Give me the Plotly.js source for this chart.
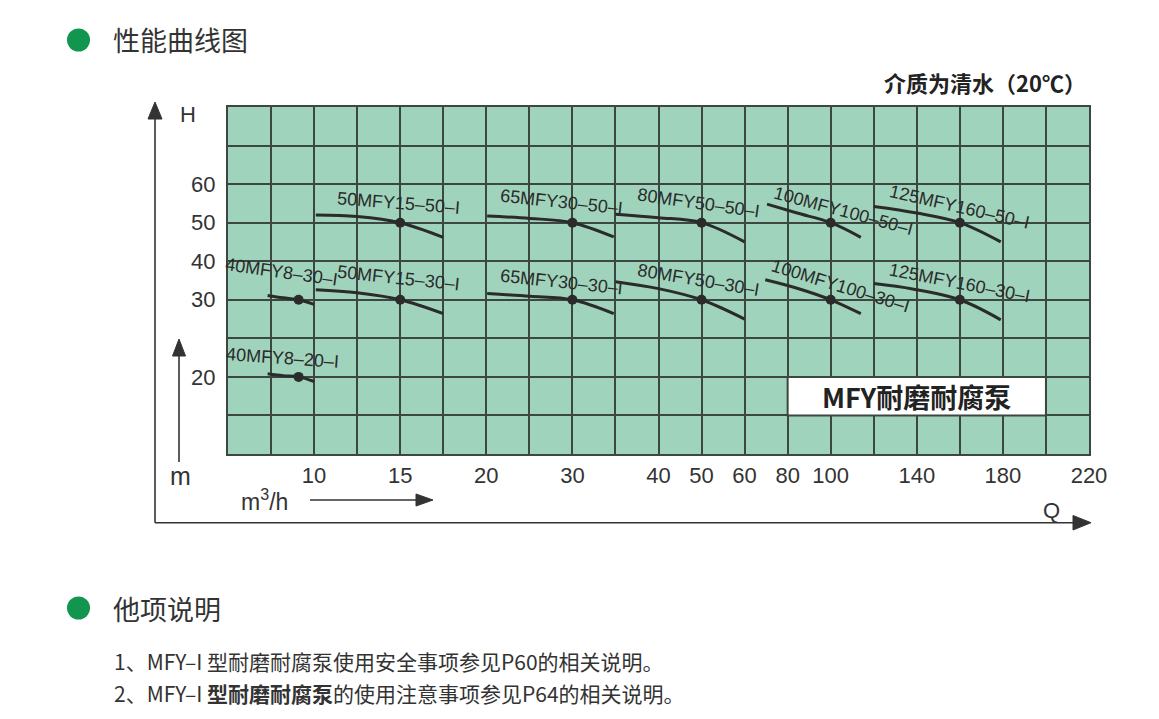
<!DOCTYPE html>
<html><head><meta charset="utf-8">
<script src="https://cdn.plot.ly/plotly-3.0.1.min.js"></script>
<style>html,body{margin:0;padding:0;background:#fff}</style>
</head><body><div id="chart" style="width:1159px;height:719px"></div>
<script>
// ---------- data ----------
const qTicks = [10, 15, 20, 30, 40, 50, 60, 80, 100, 140, 180, 220];
const hTicks = [20, 30, 40, 50, 60];
const pumpNames = ["40MFY8–20–I", "40MFY8–30–I", "50MFY15–30–I", "50MFY15–50–I",
  "65MFY30–30–I", "65MFY30–50–I", "80MFY50–30–I", "80MFY50–50–I",
  "100MFY100–30–I", "100MFY100–50–I", "125MFY160–30–I", "125MFY160–50–I"];
const curveQ = [
  [7.3, 8.2, 9.1, 10.0],
  [7.3, 8.2, 9.1, 10.0],
  [10.1, 12.5, 15, 17.5],
  [10.1, 12.5, 15, 17.5],
  [20.1, 25.1, 30, 34.8],
  [20.1, 25.1, 30, 34.8],
  [35, 40, 50, 60],
  [35, 40, 50, 60],
  [69.6, 84.4, 100, 114],
  [70.4, 84.4, 100, 114],
  [120, 138, 160, 179],
  [120, 140, 160, 179]
];
const curveH = [
  [20.4, 20.15, 20.0, 19.4],
  [31.1, 30.5, 30.0, 29.4],
  [32.6, 31.8, 30, 28.2],
  [52.0, 51.6, 50, 46.2],
  [31.6, 30.9, 30, 28.2],
  [51.7, 51.1, 50, 46.3],
  [34.7, 32.9, 30, 27.5],
  [52.2, 51.3, 50, 45.0],
  [35.2, 33.0, 30, 28.2],
  [54.8, 52.5, 50, 46.2],
  [34.2, 32.8, 30, 27.4],
  [54.2, 52.5, 50, 45.0]
];
const ratedQ = [9.1, 9.1, 15, 15, 30, 30, 50, 50, 100, 100, 160, 160];
const ratedH = [20, 30, 30, 50, 30, 50, 30, 50, 30, 50, 30, 50];

// ---------- layout helpers (axis scale of the printed grid) ----------
const Q_KNOTS = [5, 10, 15, 20, 30, 40, 50, 60, 80, 100, 140, 180, 220];
const Q_COLS  = [0, 2, 4, 6, 8, 10, 11, 12, 13, 14, 16, 18, 20];
const H_KNOTS = [10, 20, 30, 40, 50, 60, 70, 80];
const H_ROWS  = [0, 2, 4, 5, 6, 7, 8, 9];
const N_COLS = 20, N_ROWS = 9;
function piecewise(v, ks, ps) {
  for (let i = 0; i < ks.length - 1; i++) {
    if (v <= ks[i + 1] || i === ks.length - 2)
      return ps[i] + (v - ks[i]) * (ps[i + 1] - ps[i]) / (ks[i + 1] - ks[i]);
  }
}
const qx = q => piecewise(q, Q_KNOTS, Q_COLS);
const hy = h => piecewise(h, H_KNOTS, H_ROWS);
function gridTicks(n, ticks, fn) {
  const vals = [], texts = [];
  for (let k = 0; k <= n; k++) {
    vals.push(k);
    const t = ticks.find(v => Math.abs(fn(v) - k) < 1e-9);
    texts.push(t === undefined ? '' : String(t));
  }
  return {vals, texts};
}
const xt = gridTicks(N_COLS, qTicks, qx);
const yt = gridTicks(N_ROWS, hTicks, hy);

const labelShift = [[-16, 19], [-17, 28], [-2, 22], [-2, 20], [-11, 18], [-11, 21],
  [-3, 20], [-3, 20], [10, 14], [13, 12], [0, 17], [0, 16]];
const labelAngle = [4, 8, 6, 4.5, 6, 6, 9.5, 8, 17, 15, 11, 13];

const L = 228, T = 107, W = 861, H = 347;
const PX = p => (p - L) / W;
const PY = p => (T + H - p) / H;

const INK = '#2b2b2b', GRID = '#3d4742', TXT = '#333333';
const CJK = 'Noto Sans CJK SC, Liberation Sans, sans-serif';
const LAT = 'Liberation Sans, Arial, sans-serif';

const traces = [];
for (let i = 0; i < pumpNames.length; i++) {
  traces.push({
    x: curveQ[i].map(qx), y: curveH[i].map(hy), mode: 'lines', type: 'scatter',
    line: {color: INK, width: 3, shape: 'spline'}, hoverinfo: 'skip', showlegend: false
  });
}
traces.push({
  x: ratedQ.map(qx), y: ratedH.map(hy), mode: 'markers', type: 'scatter',
  marker: {color: INK, size: 10}, hoverinfo: 'skip', showlegend: false
});

const annotations = [];
for (let i = 0; i < pumpNames.length; i++) {
  annotations.push({
    x: qx(ratedQ[i]), y: hy(ratedH[i]), xref: 'x', yref: 'y', text: pumpNames[i],
    showarrow: false, xshift: labelShift[i][0], yshift: labelShift[i][1],
    textangle: labelAngle[i], font: {family: LAT, size: 18, color: INK},
    xanchor: 'center', yanchor: 'middle'
  });
}
function txt(text, px, py, size, anchor, fam, color) {
  annotations.push({x: PX(px), y: PY(py), xref: 'paper', yref: 'paper', text: text,
    showarrow: false, xanchor: anchor || 'center', yanchor: 'middle',
    font: {family: fam || LAT, size: size, color: color || TXT}});
}
txt('性能曲线图', 111, 40, 27, 'left', CJK);
txt('<b>介质为清水（20℃）</b>', 1088, 82, 22, 'right', CJK, '#222');
txt('H', 188, 114, 22);
txt('m', 180, 476, 25);
txt('m<sup>3</sup>/h', 239, 500, 23, 'left');
txt('Q', 1051, 510, 22);
txt('他项说明', 111, 608, 27, 'left', CJK);
txt('1、MFY–I 型耐磨耐腐泵使用安全事项参见P60的相关说明。', 112, 661, 21, 'left', CJK);
txt('2、MFY–I <b>型耐磨耐腐泵</b>的使用注意事项参见P64的相关说明。', 112, 693, 21, 'left', CJK);
annotations.push({x: 16, y: 1.5, xref: 'x', yref: 'y', text: '<b>MFY耐磨耐腐泵</b>',
  showarrow: false, font: {family: CJK, size: 27, color: '#222'}});

const shapes = [];
function pline(x0, y0, x1, y1) {
  shapes.push({type: 'line', xref: 'paper', yref: 'paper', x0: PX(x0), y0: PY(y0), x1: PX(x1), y1: PY(y1),
    line: {color: TXT, width: 1.6}});
}
function tri(pts) {
  const d = 'M' + pts.map(p => PX(p[0]) + ',' + PY(p[1])).join('L') + 'Z';
  shapes.push({type: 'path', xref: 'paper', yref: 'paper', path: d, fillcolor: TXT, line: {color: TXT, width: 1}});
}
pline(155, 522.7, 155, 115); tri([[155, 102], [148, 119], [162, 119]]);
pline(155, 522.7, 1076, 522.7); tri([[1091, 522.7], [1073, 515.5], [1073, 530]]);
pline(179, 462, 179, 352); tri([[179, 339], [172.5, 356], [185.5, 356]]);
pline(310, 500, 420, 500); tri([[433, 500], [416, 494], [416, 506]]);
shapes.push({type: 'circle', xref: 'paper', yref: 'paper', x0: PX(67), x1: PX(90), y0: PY(51.5), y1: PY(28.5),
  fillcolor: '#11954f', line: {width: 0}});
shapes.push({type: 'circle', xref: 'paper', yref: 'paper', x0: PX(67), x1: PX(90), y0: PY(619.5), y1: PY(596.5),
  fillcolor: '#11954f', line: {width: 0}});
shapes.push({type: 'rect', xref: 'x', yref: 'y', x0: 13, x1: 19, y0: 1, y1: 2, layer: 'above',
  fillcolor: '#ffffff', line: {color: GRID, width: 2}});

const axisCommon = {
  showgrid: true, gridcolor: GRID, gridwidth: 2, zeroline: false,
  showline: true, mirror: true, linecolor: GRID, linewidth: 2,
  ticks: '', tickmode: 'array', fixedrange: true,
  tickfont: {family: LAT, size: 22, color: TXT}
};
const layout = {
  width: 1159, height: 719, autosize: false,
  margin: {l: L, r: 1159 - L - W, t: T, b: 719 - T - H},
  paper_bgcolor: '#ffffff', plot_bgcolor: '#9fd3bc',
  font: {family: LAT, color: TXT},
  xaxis: Object.assign({}, axisCommon, {range: [0, N_COLS], tickvals: xt.vals, ticktext: xt.texts, ticklabelstandoff: 1}),
  yaxis: Object.assign({}, axisCommon, {range: [0, N_ROWS], tickvals: yt.vals, ticktext: yt.texts, ticklabelstandoff: 6}),
  annotations: annotations, shapes: shapes, hovermode: false, showlegend: false
};
Plotly.newPlot('chart', traces, layout, {staticPlot: true, displayModeBar: false});
</script>
</body></html>
